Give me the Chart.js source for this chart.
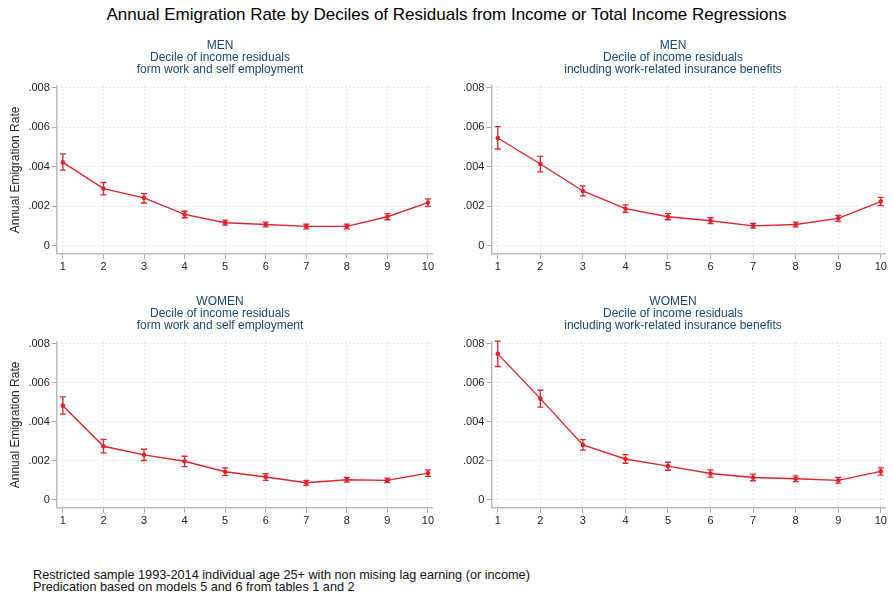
<!DOCTYPE html>
<html lang="en">
<head>
  <meta charset="UTF-8" />
  <title>Annual Emigration Rate by Deciles</title>
  <script src="https://cdn.jsdelivr.net/npm/chart.js"></script>
  <style>
    body { margin: 0; background: #fff; font-family: "Liberation Sans", Arial, sans-serif; }
    #wrap { position: relative; width: 893px; height: 596px; overflow: hidden; }
    .main-title { position: absolute; top: 5px; left: 0; width: 893px; text-align: center; font-size: 17px; color: #000; }
    .note { position: absolute; left: 33px; top: 569px; font-size: 12.7px; line-height: 12px; color: #111; }
    canvas { position: absolute; }
  </style>
</head>
<body>
<div id="wrap">
  <div class="main-title">Annual Emigration Rate by Deciles of Residuals from Income or Total Income Regressions</div>
  <canvas id="c1" style="left:0;top:37px" width="440" height="239"></canvas>
  <canvas id="c2" style="left:445px;top:37px" width="448" height="239"></canvas>
  <canvas id="c3" style="left:0;top:293px" width="440" height="237"></canvas>
  <canvas id="c4" style="left:445px;top:293px" width="448" height="237"></canvas>
  <div class="note">Restricted sample 1993-2014 individual age 25+ with non mising lag earning (or income)<br>Predication based on models 5 and 6 from tables 1 and 2</div>
</div>

<script>
// deciles (x) and y tick labels
const deciles = [1, 2, 3, 4, 5, 6, 7, 8, 9, 10];
const yTicks = [0, 0.002, 0.004, 0.006, 0.008];
const yTickLabels = ['0', '.002', '.004', '.006', '.008'];

// MEN - income from work and self employment
const menWork   = [0.00422, 0.00289, 0.00242, 0.00158, 0.00116, 0.00107, 0.00097, 0.00097, 0.00146, 0.00218];
const menWorkLo = [0.00383, 0.00257, 0.00216, 0.00141, 0.00104, 0.00095, 0.00085, 0.00085, 0.00131, 0.00199];
const menWorkHi = [0.00465, 0.00320, 0.00264, 0.00174, 0.00129, 0.00119, 0.00109, 0.00109, 0.00162, 0.00237];

// MEN - including work-related insurance benefits
const menIns   = [0.00546, 0.00414, 0.00277, 0.00187, 0.00146, 0.00126, 0.00100, 0.00107, 0.00138, 0.00223];
const menInsLo = [0.00490, 0.00374, 0.00252, 0.00169, 0.00131, 0.00111, 0.00088, 0.00095, 0.00123, 0.00203];
const menInsHi = [0.00604, 0.00453, 0.00303, 0.00206, 0.00162, 0.00141, 0.00112, 0.00119, 0.00153, 0.00244];

// WOMEN - income from work and self employment
const womenWork   = [0.00483, 0.00274, 0.00230, 0.00197, 0.00143, 0.00116, 0.00087, 0.00102, 0.00099, 0.00136];
const womenWorkLo = [0.00439, 0.00240, 0.00201, 0.00170, 0.00123, 0.00099, 0.00073, 0.00090, 0.00087, 0.00119];
const womenWorkHi = [0.00528, 0.00310, 0.00259, 0.00223, 0.00163, 0.00133, 0.00099, 0.00114, 0.00111, 0.00153];

// WOMEN - including work-related insurance benefits
const womenIns   = [0.00749, 0.00519, 0.00281, 0.00209, 0.00172, 0.00134, 0.00114, 0.00107, 0.00099, 0.00145];
const womenInsLo = [0.00684, 0.00475, 0.00254, 0.00187, 0.00151, 0.00116, 0.00097, 0.00092, 0.00085, 0.00126];
const womenInsHi = [0.00814, 0.00562, 0.00308, 0.00231, 0.00192, 0.00153, 0.00131, 0.00122, 0.00114, 0.00163];

const RED = '#e0242b';
const FONT = '"Liberation Sans", Arial, sans-serif';

// draws the confidence interval whiskers through the chart's scales
const errorBars = {
  id: 'errorBars',
  afterDatasetsDraw(chart) {
    const ctx = chart.ctx;
    const xs = chart.scales.x, ys = chart.scales.y;
    chart.data.datasets.forEach(ds => {
      ctx.save();
      ctx.strokeStyle = RED;
      ctx.lineWidth = 1.3;
      ds.data.forEach((p, i) => {
        const x = xs.getPixelForValue(p.x);
        const yl = ys.getPixelForValue(ds.lo[i]);
        const yh = ys.getPixelForValue(ds.hi[i]);
        ctx.beginPath();
        ctx.moveTo(x, yl); ctx.lineTo(x, yh);
        ctx.moveTo(x - 3, yl); ctx.lineTo(x + 3, yl);
        ctx.moveTo(x - 3, yh); ctx.lineTo(x + 3, yh);
        ctx.stroke();
      });
      ctx.restore();
    });
  }
};

function makePanel(id, titleLines, vals, lo, hi, showYTitle, padLeft) {
  new Chart(document.getElementById(id), {
    type: 'line',
    data: {
      datasets: [{
        data: deciles.map((d, i) => ({ x: d, y: vals[i] })),
        lo: lo,
        hi: hi,
        borderColor: RED,
        backgroundColor: RED,
        borderWidth: 1.4,
        pointRadius: 2.3,
        pointBorderWidth: 0,
        tension: 0
      }]
    },
    options: {
      responsive: false,
      animation: false,
      layout: { padding: { left: padLeft, right: 8, top: 0, bottom: 0 } },
      plugins: {
        legend: { display: false },
        tooltip: { enabled: false },
        title: {
          display: true,
          text: titleLines,
          color: '#1a476f',
          font: { family: FONT, size: 12, weight: 'normal', lineHeight: 1.0 },
          padding: { top: 3, bottom: 10 }
        }
      },
      scales: {
        x: {
          type: 'linear',
          min: 0.85,
          max: 10.1,
          afterBuildTicks: s => { s.ticks = deciles.map(v => ({ value: v })); },
          ticks: { color: '#222', font: { family: FONT, size: 11 }, padding: 2, maxRotation: 0 },
          grid: { color: '#d4d4d4', tickColor: '#aaa', tickLength: 5, lineWidth: 1 },
          border: { color: '#bbb', width: 1.5, dash: [1, 3] }
        },
        y: {
          min: -0.00042,
          max: 0.0081,
          afterBuildTicks: s => { s.ticks = yTicks.map(v => ({ value: v })); },
          ticks: {
            color: '#222',
            font: { family: FONT, size: 11 },
            padding: 2,
            callback: (v) => yTickLabels[yTicks.indexOf(v)]
          },
          grid: { color: '#d4d4d4', tickColor: '#aaa', tickLength: 5, lineWidth: 1 },
          border: { color: '#bbb', width: 1.5, dash: [1, 3] },
          title: {
            display: showYTitle,
            text: 'Annual Emigration Rate',
            color: '#222',
            font: { family: FONT, size: 12 },
            padding: { top: 0, bottom: 4 }
          }
        }
      }
    },
    plugins: [errorBars]
  });
}

makePanel('c1', ['MEN', 'Decile of income residuals', 'form work and self employment'],
  menWork, menWorkLo, menWorkHi, true, 8);
makePanel('c2', ['MEN', 'Decile of income residuals', 'including work-related insurance benefits'],
  menIns, menInsLo, menInsHi, false, 16);
makePanel('c3', ['WOMEN', 'Decile of income residuals', 'form work and self employment'],
  womenWork, womenWorkLo, womenWorkHi, true, 8);
makePanel('c4', ['WOMEN', 'Decile of income residuals', 'including work-related insurance benefits'],
  womenIns, womenInsLo, womenInsHi, false, 16);
</script>
</body>
</html>
